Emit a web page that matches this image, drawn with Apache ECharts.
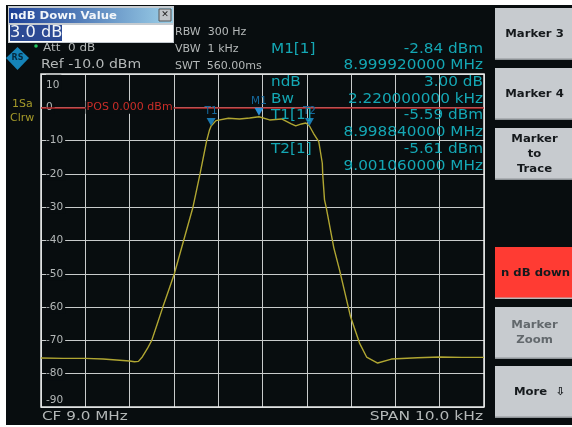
<!DOCTYPE html>
<html><head><meta charset="utf-8">
<style>html,body{margin:0;padding:0;background:#fff}#c{width:572px;height:427px}</style>
<script src="https://cdn.jsdelivr.net/npm/echarts@6/dist/echarts.min.js"></script>
</head><body><div id="c"></div>
<script>
// Frequency offset from the 9.0 MHz centre, kHz
const freqKHz = [-5,-4.5,-4,-3.6,-3.3,-3.0,-2.89,-2.8,-2.71,-2.6,-2.5,-2.38,-2.25,-2.12,-1.99,-1.78,-1.57,-1.41,-1.26,-1.2,-1.16,-1.05,-0.77,-0.52,-0.29,-0.08,0.16,0.43,0.65,0.75,0.88,0.98,1.06,1.15,1.27,1.35,1.36,1.40,1.44,1.61,1.74,1.99,2.19,2.35,2.6,2.91,3.5,4,4.5,5];
const traceDb = [-75.3,-75.4,-75.4,-75.6,-75.9,-76.2,-76.4,-76.3,-74.9,-72.5,-70,-65.2,-60,-55,-50,-40,-30,-20,-10,-7,-5.59,-4.0,-3.3,-3.5,-3.2,-2.84,-3.8,-3.5,-5.0,-5.6,-5.0,-4.7,-5.61,-7.8,-10.3,-16.8,-20.3,-27.8,-30.2,-42.2,-48.9,-63,-70.8,-75,-76.8,-75.6,-75.2,-75,-75.1,-75.1];
const markerT1 = [-1.16,-5.59];
const markerT2 = [1.06,-5.61];
const markerM1 = [-0.08,-2.84];
const refLevel = 0;
const yTicks = {min:-90,max:10,step:10};
const xTicks = {min:-5,max:5,step:1};
const leftInfo = ['Att  0 dB','Ref -10.0 dBm'];
const sweepInfo = ['RBW  300 Hz','VBW  1 kHz','SWT  560.00ms'];
const readoutNames = ['M1[1]','ndB','Bw','T1[1]','T2[1]'];
const readoutValues = ['-2.84 dBm','8.999920000 MHz','3.00 dB','2.220000000 kHz','-5.59 dBm','8.998840000 MHz','-5.61 dBm','9.001060000 MHz'];
const softkeys = [['Marker 3'],['Marker 4'],['Marker','to','Trace'],['n dB down'],['Marker','Zoom'],['More  ⇩']];

const FONT='"DejaVu Sans"', CYAN='#14a7b4', GRAY='#b4b8b8', BG='#080d0f';
const txt=(x,y,text,color,size,align,sx,extra)=>({type:'text',z:50,x,y,scaleX:sx||1,style:Object.assign({text,fill:color,fontSize:size,fontFamily:FONT,align:align||'left',verticalAlign:'middle'},extra||{})});
const rect=(x,y,w,h,fill,z,stroke)=>({type:'rect',z:z,shape:{x,y,width:w,height:h},style:{fill,stroke:stroke||null,lineWidth:stroke?1:0}});

const g=[];
g.push(rect(6,5,566,420,BG,-10));
// dialog
g.push(rect(8,6,166,37,'#c5cbd0',60));
g.push({type:'rect',z:61,shape:{x:9,y:8,width:164,height:15},style:{fill:{type:'linear',x:0,y:0,x2:1,y2:0,colorStops:[{offset:0,color:'#1c3f96'},{offset:1,color:'#9cd0e8'}]}}});
g.push(Object.assign(txt(10,16,'ndB Down Value','#f2f6fa',10.5,'left',1.11,{fontWeight:'bold'}),{z:62}));
g.push(rect(159,9,12,12,'#c0c4c8',62,'#555'));
g.push(Object.assign(txt(165,15,'✕','#222',9,'center'),{z:63}));
g.push(rect(9,25,164,17,'#ffffff',61));
g.push(rect(10,25,52,16,'#2c4a94',62));
g.push(Object.assign(txt(10,33.5,'3.0 dB','#f0f4f8',15,'left',1.08),{z:63}));
// logo & dot
g.push({type:'polygon',z:50,shape:{points:[[17.5,47],[29,58],[17.5,70],[6,58]]},style:{fill:'#1583b8'}});
g.push(txt(17.5,58,'RS','#062a40',8,'center',1,{fontWeight:'bold'}));
g.push({type:'circle',z:50,shape:{cx:36,cy:46,r:1.8},style:{fill:'#22c55e'}});
// left and sweep info
g.push(txt(43,48,leftInfo[0],GRAY,11,'left',1.09));
g.push(txt(41,65,leftInfo[1],GRAY,13,'left',1.08));
sweepInfo.forEach((s,i)=>g.push(txt(175,32+i*17,s,GRAY,10.5,'left',1.05)));
g.push(txt(12,104,'1Sa','#a59a2a',11));
g.push(txt(10,118,'Clrw','#a59a2a',11));
g.push(txt(42,417,'CF 9.0 MHz',GRAY,13,'left',1.17));
g.push(txt(483,417,'SPAN 10.0 kHz',GRAY,13,'right',1.19));
// readouts
[49,82,99,115,149].forEach((y,i)=>g.push(txt(271,y,readoutNames[i],CYAN,13.5,'left',1.13)));
[49,65,82,99,115,132,149,166].forEach((y,i)=>g.push(txt(483,y,readoutValues[i],CYAN,13.5,'right',1.13)));
// softkeys
[[8,52],[68,52],[128,52],[247,52],[307,52],[366,52]].forEach((b,i)=>{
  const red=i===3, dim=i===4;
  g.push(rect(495,b[0],77,b[1],red?'#ff3b33':'#c7cbcf',20));
  g.push(rect(495,b[0]+b[1]-1.5,77,1.5,red?'#b8b8b8':'#8d9296',21));
  const lines=softkeys[i], lh=15, y0=b[0]+b[1]/2-(lines.length-1)*lh/2;
  const x=i===3?501:i===5?514:534.5, al=(i===3||i===5)?'left':'center';
  lines.forEach((t,j)=>g.push(txt(x,y0+j*lh,t,dim?'#62686c':'#15191c',11,al,1.06,{fontWeight:'bold'})));
});

const tri=(p,name,color,off)=>({coord:p,name,symbol:'triangle',symbolRotate:180,symbolSize:[9,8],symbolOffset:[0,off],itemStyle:{color},
  label:{show:true,position:'top',distance:1,formatter:name,color:'#15689c',fontFamily:FONT,fontSize:10.5}});

const chart=echarts.init(document.getElementById('c'),null,{renderer:'canvas'});
chart.setOption({
  animation:false,backgroundColor:'#ffffff',
  grid:{left:41,right:88,top:74,bottom:20,show:false},
  xAxis:{type:'value',min:xTicks.min,max:xTicks.max,interval:xTicks.step,
    axisLine:{show:false},axisTick:{show:false},axisLabel:{show:false},
    splitLine:{show:true,lineStyle:{color:'#c8cbcb',width:1}}},
  yAxis:{type:'value',min:yTicks.min,max:yTicks.max,interval:yTicks.step,
    axisLine:{show:false},axisTick:{show:false},
    axisLabel:{inside:true,margin:5,color:GRAY,fontSize:10.5,fontFamily:FONT,backgroundColor:BG,padding:[1,2,1,0],
      verticalAlignMinLabel:'bottom',verticalAlignMaxLabel:'top',
      formatter:v=>v===yTicks.max?'{top|'+v+'}':String(v),
      rich:{top:{color:GRAY,fontSize:10.5,fontFamily:FONT,padding:[5,0,0,0]}}},
    splitLine:{show:true,lineStyle:{color:'#c8cbcb',width:1}}},
  graphic:g.concat([{type:'rect',z:5,shape:{x:41,y:74,width:443,height:333},style:{fill:null,stroke:'#e8eaea',lineWidth:1.5}}]),
  series:[{type:'line',data:freqKHz.map((f,i)=>[f,traceDb[i]]),symbol:'none',smooth:false,z:10,
    lineStyle:{color:'#b0a632',width:1.4},
    markLine:{silent:true,symbol:'none',animation:false,z:12,
      data:[{yAxis:refLevel}],label:{show:false},lineStyle:{color:'#b8282a',width:1.5,type:'solid'}},
    markPoint:{silent:true,animation:false,z:14,data:[
      tri(markerT1,'T1','#1a78b0',-4),
      tri(markerM1,'M1','#2a90d8',-5),
      tri(markerT2,'T2','#1a78b0',-4),
      {coord:[-3.0,refLevel],symbol:'rect',symbolSize:0,
       label:{show:true,position:'inside',formatter:'POS 0.000 dBm',color:'#c92d28',fontFamily:FONT,fontSize:11,backgroundColor:BG,padding:[1,1]}}
    ]}}]
});
</script></body></html>
